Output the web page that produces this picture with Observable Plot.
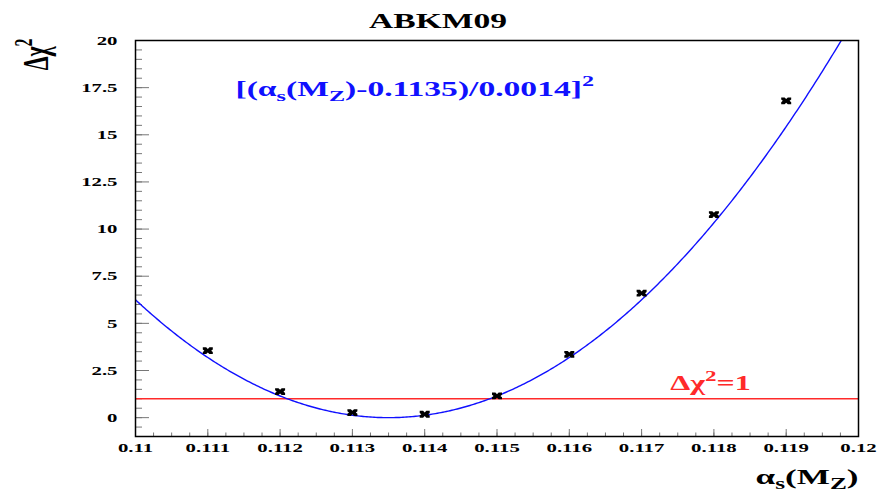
<!DOCTYPE html>
<html>
<head>
<meta charset="utf-8">
<script src="https://cdn.jsdelivr.net/npm/d3@7"></script>
<script src="https://cdn.jsdelivr.net/npm/@observablehq/plot@0.6"></script>
<style>
  body { margin: 0; background: #fff; }
</style>
</head>
<body>
<div id="chart"></div>
<script>
// Δχ² profile of the strong coupling αs(MZ), ABKM09 fit
const alphaS = [0.111, 0.112, 0.113, 0.114, 0.115, 0.116, 0.117, 0.118, 0.119];
const deltaChi2 = [3.55, 1.38, 0.27, 0.18, 1.15, 3.36, 6.6, 10.77, 16.8];

// parabola quoted on the chart: [(αs(MZ) - centre) / width]²
const fitCentre = 0.1135;
const fitWidth = 0.0014;

const xTicks = [0.110, 0.111, 0.112, 0.113, 0.114, 0.115, 0.116, 0.117, 0.118, 0.119, 0.120];
const xTickLabels = ["0.11", "0.111", "0.112", "0.113", "0.114", "0.115", "0.116", "0.117", "0.118", "0.119", "0.12"];
const yTicks = [0, 2.5, 5, 7.5, 10, 12.5, 15, 17.5, 20];
const yTickLabels = ["0", "2.5", "5", "7.5", "10", "12.5", "15", "17.5", "20"];
const xMinorTicks = d3.range(0, 41).map(i => 0.11 + i * 0.00025);
const yMinorTicks = d3.range(-2, 41).map(i => i * 0.5);

const points = alphaS.map((a, i) => ({a, chi2: deltaChi2[i]}));
const curve = d3.range(0, 401).map(i => {
  const a = 0.11 + i * 0.000025;
  return {a, chi2: ((a - fitCentre) / fitWidth) ** 2};
});

// filled "x" marker: a flat block notched in the middle of each side
const crossSymbol = {
  draw(ctx) {
    const a = 5, b = 3.4, n = 1.6, s = 1.3;
    const pts = [
      [-a, -b], [-n, -b], [0, -b + n], [n, -b], [a, -b],
      [a, -s], [a - n, 0], [a, s], [a, b],
      [n, b], [0, b - n], [-n, b], [-a, b],
      [-a, s], [-a + n, 0], [-a, -s]
    ];
    pts.forEach(([x, y], i) => (i ? ctx.lineTo(x, y) : ctx.moveTo(x, y)));
    ctx.closePath();
  }
};

const blue = "#1010ff";
const red = "#ff2a2a";

const chart = Plot.plot({
  width: 878,
  height: 496,
  marginLeft: 135,
  marginRight: 20,
  marginTop: 40,
  marginBottom: 60,
  style: {fontFamily: "'Liberation Serif', 'Times New Roman', serif", fontWeight: "bold", fontSize: "12px", background: "#fff", color: "#000", overflow: "visible"},
  x: {domain: [0.11, 0.12], nice: false},
  y: {domain: [-1, 20], nice: false},
  marks: [
    // inward tick marks
    Plot.axisX(xMinorTicks, {tickSize: -3.5, fill: null, stroke: "#777", label: null}),
    Plot.axisX(xTicks, {tickSize: -7, fill: null, stroke: "#777", label: null}),
    Plot.axisY(yMinorTicks, {tickSize: -7, fill: null, stroke: "#777", label: null}),
    Plot.axisY(yTicks, {tickSize: -14, fill: null, stroke: "#777", label: null}),
    // tick labels
    Plot.axisX(xTicks, {tickSize: 0, tickPadding: 6, fontSize: 13, tickFormat: d => xTickLabels[xTicks.indexOf(d)], label: null}),
    Plot.axisY(yTicks, {tickSize: 0, tickPadding: 18, fontSize: 13, tickFormat: d => yTickLabels[yTicks.indexOf(d)], label: null}),
    // Δχ² = 1 reference line
    Plot.ruleY([1], {stroke: red, strokeWidth: 1.4}),
    // fitted parabola
    Plot.line(curve, {x: "a", y: "chi2", stroke: blue, strokeWidth: 1.4, clip: true}),
    // scan points
    Plot.dot(points, {x: "a", y: "chi2", symbol: crossSymbol, fill: "#000", stroke: "none"}),
    Plot.frame({stroke: "#000", strokeWidth: 1.5}),
    // annotations
    Plot.text(["ABKM09"], {frameAnchor: "top", textAnchor: "middle", dx: -59, dy: -13, lineAnchor: "bottom", fontSize: 21, fill: "#000"}),
    Plot.text([`[(α_s(M_Z)-${fitCentre})/${fitWidth.toFixed(4)}]^2`], {frameAnchor: "top-left", textAnchor: "start", dx: 100, dy: 55, lineAnchor: "bottom", fontSize: 21, fill: blue}),
    Plot.text(["Δχ^2=1"], {frameAnchor: "bottom-right", textAnchor: "middle", dx: -148, dy: -47, lineAnchor: "bottom", fontSize: 20, fill: red}),
    Plot.text(["Δχ^2"], {frameAnchor: "top-left", dx: -88, dy: -2, rotate: -90, textAnchor: "end", lineAnchor: "bottom", fontSize: 22, fill: "#000"}),
    Plot.text(["α_s(M_Z)"], {frameAnchor: "bottom-right", dx: 0, dy: 47, textAnchor: "end", lineAnchor: "bottom", fontSize: 22, fill: "#000"})
  ]
});

document.getElementById("chart").append(chart);

const svgNS = "http://www.w3.org/2000/svg";

// turn "_x" / "^x" into sub- and superscript tspans
function richText(el) {
  const raw = el.textContent;
  if (!/[_^]/.test(raw)) return;
  const size = parseFloat(getComputedStyle(el).fontSize);
  el.textContent = "";
  let shift = 0;
  for (const m of raw.matchAll(/([_^])(.)|([^_^]+)/g)) {
    const ts = document.createElementNS(svgNS, "tspan");
    let target = 0;
    if (m[1]) {
      target = m[1] === "_" ? 0.27 * size : -0.45 * size;
      ts.setAttribute("font-size", (0.72 * size).toFixed(1));
      ts.textContent = m[2];
    } else {
      ts.textContent = m[3];
    }
    if (target !== shift) ts.setAttribute("dy", (target - shift).toFixed(2));
    shift = target;
    el.append(ts);
  }
}

// widen the glyphs horizontally about their anchor point
function widen(el, k) {
  const t = el.getAttribute("transform");
  if (t) {
    el.setAttribute("transform", t + (t.includes("rotate") ? ` scale(1,${k})` : ` scale(${k},1)`));
  } else {
    const x = parseFloat(el.getAttribute("x")) || 0;
    el.setAttribute("transform", `translate(${x},0) scale(${k},1) translate(${-x},0)`);
  }
}

chart.querySelectorAll("text").forEach(el => {
  richText(el);
  widen(el, 1.6);
});
</script>
</body>
</html>
